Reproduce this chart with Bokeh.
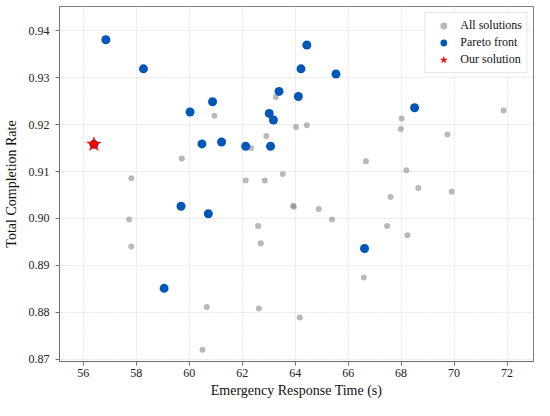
from bokeh.plotting import figure
from bokeh.models import Range1d, FixedTicker, PrintfTickFormatter, Legend, LegendItem
from bokeh.embed import file_html
from bokeh.resources import INLINE

# All solutions (gray)
all_x = [57.73, 57.81, 57.81, 59.72, 60.50, 60.66, 60.95, 62.13, 62.33, 62.60,
         62.63, 62.70, 62.85, 62.91, 63.27, 63.53, 63.92, 63.95, 64.03, 64.17,
         64.44, 64.89, 65.39, 66.59, 66.67, 67.47, 67.60, 67.99, 68.02, 68.20,
         68.24, 68.65, 69.75, 69.91, 71.87]
all_y = [0.8998, 0.9086, 0.8940, 0.9128, 0.8720, 0.8811, 0.9219, 0.9081, 0.9150, 0.8984,
         0.8808, 0.8947, 0.9081, 0.9176, 0.9259, 0.9095, 0.9027, 0.9025, 0.9195, 0.8789,
         0.9199, 0.9020, 0.8998, 0.8874, 0.9122, 0.8984, 0.9046, 0.9191, 0.9213, 0.9103,
         0.8964, 0.9065, 0.9179, 0.9057, 0.9230]

# Pareto front (blue)
pareto_x = [56.40, 56.85, 58.27, 59.05, 59.69, 60.03, 60.48, 60.72, 60.88, 61.22,
            62.13, 63.02, 63.07, 63.18, 63.39, 64.12, 64.22, 64.44, 65.54, 66.62, 68.51]
pareto_y = [0.9158, 0.9381, 0.9319, 0.8851, 0.9026, 0.9227, 0.9159, 0.9010, 0.9249, 0.9163,
            0.9154, 0.9224, 0.9154, 0.9210, 0.9271, 0.9260, 0.9319, 0.9370, 0.9308, 0.8936, 0.9236]

# Our solution (red star)
ours_x = [56.40]
ours_y = [0.9158]

x_ticks = [56, 58, 60, 62, 64, 66, 68, 70, 72]
y_ticks = [0.87, 0.88, 0.89, 0.90, 0.91, 0.92, 0.93, 0.94]

FONT = "Liberation Serif"

p = figure(width=534, height=400, output_backend="svg", toolbar_location=None,
           x_range=Range1d(55.1, 73.0), y_range=Range1d(0.8695, 0.9452),
           min_border_left=58, min_border_right=1, min_border_top=6, min_border_bottom=38)

p.outline_line_color = "#808080"
p.outline_line_width = 1

p.xaxis.ticker = FixedTicker(ticks=x_ticks)
p.yaxis.ticker = FixedTicker(ticks=y_ticks)
p.yaxis.formatter = PrintfTickFormatter(format="%.2f")

for ax in (p.xaxis, p.yaxis):
    ax.axis_line_color = "#707070"
    ax.major_tick_line_color = "#707070"
    ax.minor_tick_line_color = None
    ax.major_tick_in = 0
    ax.major_tick_out = 4
    ax.major_label_text_font = FONT
    ax.major_label_text_font_size = "12px"
    ax.major_label_text_color = "#222222"
    ax.axis_label_text_font = FONT
    ax.axis_label_text_font_size = "14px"
    ax.axis_label_text_font_style = "normal"
    ax.axis_label_text_color = "#111111"

p.xaxis.axis_label = "Emergency Response Time (s)"
p.yaxis.axis_label = "Total Completion Rate"
p.xaxis.major_label_standoff = 3
p.xaxis.axis_label_standoff = 3
p.yaxis.major_label_standoff = 6
p.yaxis.axis_label_standoff = 7

p.grid.grid_line_color = "#e6e6e6"
p.grid.grid_line_alpha = 1.0
p.grid.grid_line_dash = "2 1"

r_all = p.scatter(all_x, all_y, size=6, color="#808080", alpha=0.55, line_color=None)
r_par = p.scatter(pareto_x, pareto_y, size=9, color="#0057B7", line_color=None)
r_our = p.scatter(ours_x, ours_y, marker="star", size=15, fill_color="#FF0000",
                  line_color="#FF0000", line_width=0.5)

legend = Legend(items=[
    LegendItem(label="All solutions", renderers=[r_all]),
    LegendItem(label="Pareto front", renderers=[r_par]),
    LegendItem(label="Our solution", renderers=[r_our]),
], location="top_right")
legend.label_text_font = FONT
legend.label_text_font_size = "12px"
legend.label_text_color = "#111111"
legend.glyph_height = 17
legend.glyph_width = 28
legend.label_height = 17
legend.spacing = 0
legend.padding = 4
legend.margin = 6
legend.label_standoff = 3
legend.border_line_color = "#cccccc"
legend.background_fill_alpha = 0.85
p.add_layout(legend)

open("out.html", "w").write(file_html(p, INLINE))
